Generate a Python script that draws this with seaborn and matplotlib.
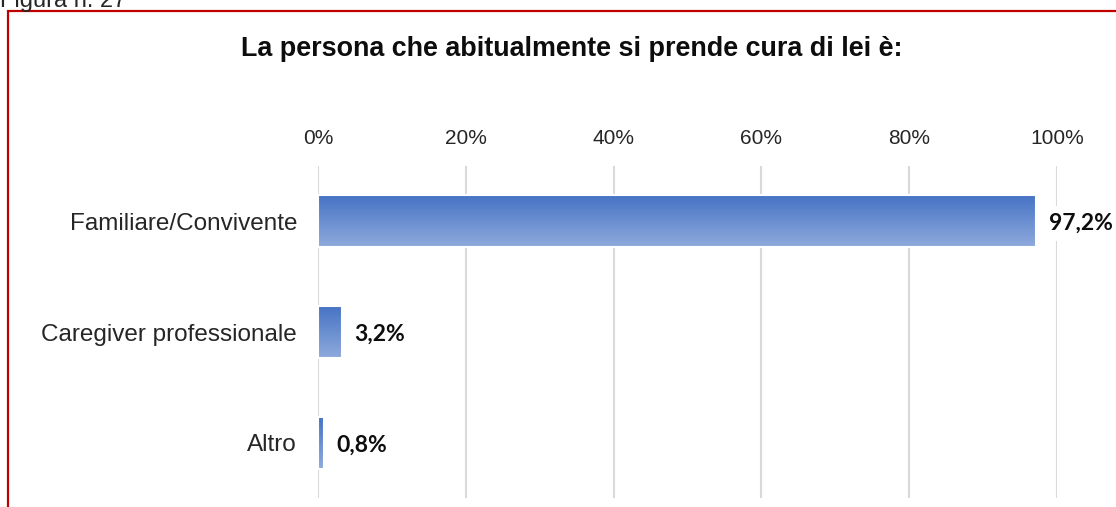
import matplotlib
matplotlib.use("Agg")
import matplotlib.pyplot as plt
from matplotlib.patches import Rectangle
import numpy as np
import seaborn as sns

# Dati
categorie = ["Familiare/Convivente", "Caregiver professionale", "Altro"]
percentuali = [97.2, 3.2, 0.8]
etichette = ["97,2%", "3,2%", "0,8%"]
tick_valori = [0, 20, 40, 60, 80, 100]
tick_testi = ["0%", "20%", "40%", "60%", "80%", "100%"]
titolo = "La persona che abitualmente si prende cura di lei è:"
didascalia = "Figura n. 27"

sns.set_style("white")
plt.rcParams["font.family"] = ["Liberation Sans", "DejaVu Sans"]

W, H = 1116, 507
fig = plt.figure(figsize=(W / 100, H / 100), dpi=100)
ax = fig.add_axes([318 / W, 1 - 498 / H, (1057 - 318) / W, (498 - 166) / H])

sns.barplot(x=percentuali, y=categorie, orient="h", width=0.47,
            color="#4472C4", edgecolor="white", linewidth=1.5, ax=ax, zorder=3)

# Riempimento sfumato delle barre
grad = np.linspace(0, 1, 256).reshape(-1, 1)
cmap = matplotlib.colors.LinearSegmentedColormap.from_list("g", ["#4472C4", "#8FAADC"])
for p in ax.patches:
    x0, y0 = p.get_x(), p.get_y()
    w, h = p.get_width(), p.get_height()
    im = ax.imshow(grad, cmap=cmap, aspect="auto", extent=(x0, x0 + w, y0 + h, y0),
                   zorder=3, interpolation="bicubic")
    im.set_clip_path(p)
    p.set_facecolor("none")
    p.set_zorder(4)

ax.set_xlim(0, 100)
ax.set_ylim(2.5, -0.5)
ax.set_xticks(tick_valori)
ax.set_xticklabels(tick_testi, fontsize=15, color="#262626")
ax.xaxis.tick_top()
ax.tick_params(axis="x", length=0, pad=13)
ax.tick_params(axis="y", length=0, pad=15, labelsize=17.5, labelcolor="#262626")
ax.set_xlabel("")
ax.set_ylabel("")
ax.xaxis.grid(True, color="#D9D9D9", linewidth=1.5, zorder=0)
ax.set_axisbelow(True)
for s in ax.spines.values():
    s.set_visible(False)

for i, (v, t) in enumerate(zip(percentuali, etichette)):
    ax.annotate(t, xy=(v, i), xytext=(9, -1.5), textcoords="offset points",
                ha="left", va="center", fontsize=16.5, fontweight="bold",
                family=["Lato", "DejaVu Sans"], color="#0D0D0D", zorder=5,
                bbox=dict(boxstyle="square,pad=0.3", facecolor="white", edgecolor="none"))

fig.text(572 / W, 1 - 49 / H, titolo, ha="center", va="center",
         fontsize=19.4, fontweight="bold", color="#0D0D0D")
fig.text(0, 1 - 1 / H, didascalia, ha="left", va="center", fontsize=17, color="#262626")

# Cornice rossa
fig.patches.append(Rectangle((7.5 / W, -0.1), 1.2, 1 - 11 / H + 0.1,
                             transform=fig.transFigure, fill=False,
                             edgecolor="#C00000", linewidth=1.6, clip_on=False))

fig.savefig("out.png", dpi=100, facecolor="white")
